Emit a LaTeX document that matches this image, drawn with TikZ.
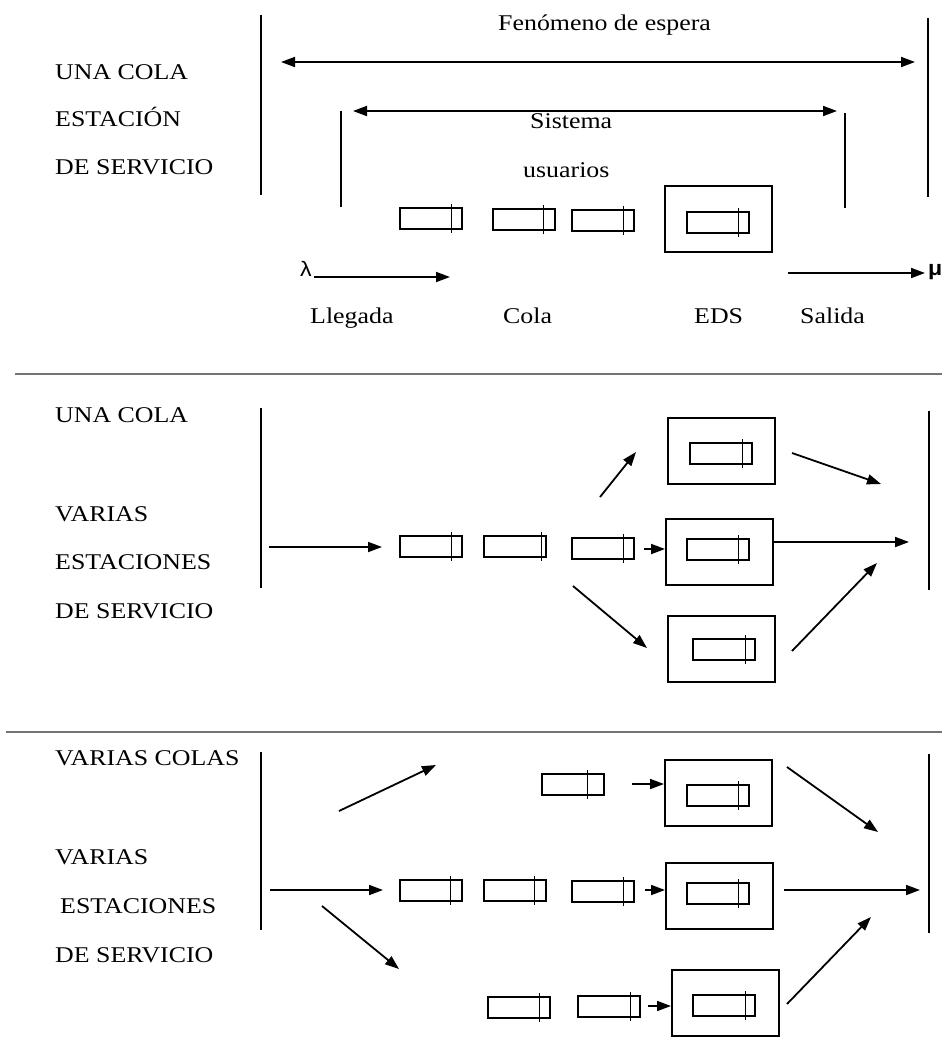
\documentclass[tikz,border=0pt]{standalone}
\usepackage{fontspec}
\setmainfont{Liberation Serif}[FakeStretch=1.15]
\newfontfamily\symfont{Liberation Sans}[FakeStretch=1.1]
\usetikzlibrary{arrows.meta}

% one customer: name, left x, top y, distance of the inner mark from the right side
\newcommand\usr[4]{%
  \node[usrbox, anchor=north west] (#1) at (#2,#3) {};
  \draw[mark line] ([xshift=-#4pt,yshift=3pt]#1.north east) -- ([xshift=-#4pt,yshift=-3pt]#1.south east);
}
% one service station (outer frame): name, left x, top y
\newcommand\station[3]{%
  \node[edsbox, anchor=north west] (#1) at (#2,#3) {};
}

\begin{document}
\begin{tikzpicture}[x=1pt,y=-1pt,
  txt/.style={font=\fontsize{22.5}{27}\selectfont, anchor=base west, inner sep=0pt},
  usrbox/.style={draw, line width=2pt, minimum width=62pt, minimum height=21pt, inner sep=0pt},
  edsbox/.style={draw, line width=2pt, minimum width=107pt, minimum height=66pt, inner sep=0pt},
  mark line/.style={line width=0.9pt},
  flow/.style={line width=1.8pt, -{Triangle[length=14pt,width=10pt]}},
  twoway/.style={line width=1.8pt, {Triangle[length=14pt,width=10pt]}-{Triangle[length=14pt,width=10pt]}},
  bar/.style={line width=1.2pt},
  sep/.style={line width=1.4pt, draw=black!55},
  sym/.style={font=\symfont\fontsize{21}{24}\selectfont, anchor=base west, inner sep=0pt},
]
\useasboundingbox (0,0) rectangle (945,1047);

% ---------------- one queue, one service station ----------------
\node[txt] (t11) at (55,79) {UNA COLA};
\node[txt] (t12) at (55,126) {ESTACIÓN};
\node[txt] (t13) at (55,174) {DE SERVICIO};

\draw[bar] (261,15) -- (261,195);
\draw[bar] (928,18) -- (928,197);
\draw[bar] (341,111) -- (341,207);
\draw[bar] (845,113) -- (845,208);

\node[txt] (fen) at (498,30) {Fenómeno de espera};
\coordinate (fenL) at (281,62);
\coordinate (fenR) at (915,62);
\draw[twoway] (fenL) -- (fenR);

\coordinate (sisL) at (353,111);
\coordinate (sisR) at (837,111);
\draw[twoway] (sisL) -- (sisR);
\node[txt] (sis) at (530,128) {Sistema};
\node[txt] (usu) at (523,177) {usuarios};

\usr{q11}{399}{207}{12}
\usr{q12}{492}{208}{13}
\usr{q13}{571}{209}{12}
\station{s1}{664}{185}
\usr{u1}{686}{211}{12}

\node[sym] (lam) at (300,276) {λ};
\coordinate (inA) at (314,277);
\coordinate (inB) at (450,277);
\draw[flow] (inA) -- (inB);

\coordinate (outA) at (788,273);
\coordinate (outB) at (925,273);
\draw[flow] (outA) -- (outB);
\node[sym, font=\symfont\bfseries\fontsize{21}{24}\selectfont] (mu) at (928,275) {μ};

\node[txt] (lleg) at (310,323) {Llegada};
\node[txt] (cola) at (503,323) {Cola};
\node[txt] (eds) at (694,323) {EDS};
\node[txt] (sal) at (800,323) {Salida};

\draw[sep] (15,374) -- (942,374);

% ---------------- one queue, several service stations ----------------
\node[txt] (t21) at (55,422) {UNA COLA};
\node[txt] (t22) at (55,521) {VARIAS};
\node[txt] (t23) at (55,569) {ESTACIONES};
\node[txt] (t24) at (55,618) {DE SERVICIO};

\draw[bar] (261,408) -- (261,588);
\draw[bar] (929,411) -- (929,590);

\coordinate (a2) at (269,547);
\coordinate (b2) at (382,547);
\draw[flow] (a2) -- (b2);

\usr{q21}{399}{535}{12}
\usr{q22}{483}{535}{6}
\usr{q23}{571}{537}{12}

\station{s21}{667}{417}
\usr{u21}{689}{442}{11}
\station{s22}{665}{518}
\usr{u22}{686}{538}{12}
\station{s23}{667}{615}
\usr{u23}{692}{638}{11}

\coordinate (k2) at (644,549);
\draw[flow] (k2) -- (k2 -| s22.west);

\coordinate (up2a) at (600,497);
\coordinate (up2b) at (636,452);
\draw[flow] (up2a) -- (up2b);
\coordinate (dn2a) at (573,586);
\coordinate (dn2b) at (647,648);
\draw[flow] (dn2a) -- (dn2b);

\coordinate (o21a) at (792,453);
\coordinate (o21b) at (881,484);
\draw[flow] (o21a) -- (o21b);
\coordinate (o22) at (909,542);
\draw[flow] (s22.east |- o22) -- (o22);
\coordinate (o23a) at (792,651);
\coordinate (o23b) at (877,563);
\draw[flow] (o23a) -- (o23b);

\draw[sep] (6,732) -- (942,732);

% ---------------- several queues, several service stations ----------------
\node[txt] (t31) at (55,765) {VARIAS COLAS};
\node[txt] (t32) at (55,864) {VARIAS};
\node[txt] (t33) at (60,913) {ESTACIONES};
\node[txt] (t34) at (55,962) {DE SERVICIO};

\draw[bar] (261,752) -- (261,930);
\draw[bar] (929,754) -- (929,933);

\coordinate (a3) at (270,890);
\coordinate (b3) at (383,890);
\draw[flow] (a3) -- (b3);
\coordinate (up3a) at (339,811);
\coordinate (up3b) at (436,765);
\draw[flow] (up3a) -- (up3b);
\coordinate (dn3a) at (322,906);
\coordinate (dn3b) at (399,969);
\draw[flow] (dn3a) -- (dn3b);

% upper line
\usr{q31}{541}{773}{18}
\station{s31}{664}{759}
\usr{u31}{686}{784}{12}
\coordinate (k31) at (632,784);
\draw[flow] (k31) -- (k31 -| s31.west);

% middle line
\usr{q32a}{399}{879}{13}
\usr{q32b}{483}{879}{13}
\usr{q32c}{571}{880}{12}
\station{s32}{665}{862}
\usr{u32}{686}{882}{12}
\coordinate (k32) at (645,890);
\draw[flow] (k32) -- (k32 -| s32.west);

% lower line
\usr{q33a}{487}{996}{12}
\usr{q33b}{577}{995}{11}
\station{s33}{671}{969}
\usr{u33}{692}{994}{11}
\coordinate (k33) at (648,1006);
\draw[flow] (k33) -- (k33 -| s33.west);

\coordinate (o31a) at (787,767);
\coordinate (o31b) at (878,832);
\draw[flow] (o31a) -- (o31b);
\coordinate (o32a) at (784,890);
\coordinate (o32b) at (920,890);
\draw[flow] (o32a) -- (o32b);
\coordinate (o33a) at (787,1004);
\coordinate (o33b) at (871,917);
\draw[flow] (o33a) -- (o33b);
\end{tikzpicture}
\end{document}
